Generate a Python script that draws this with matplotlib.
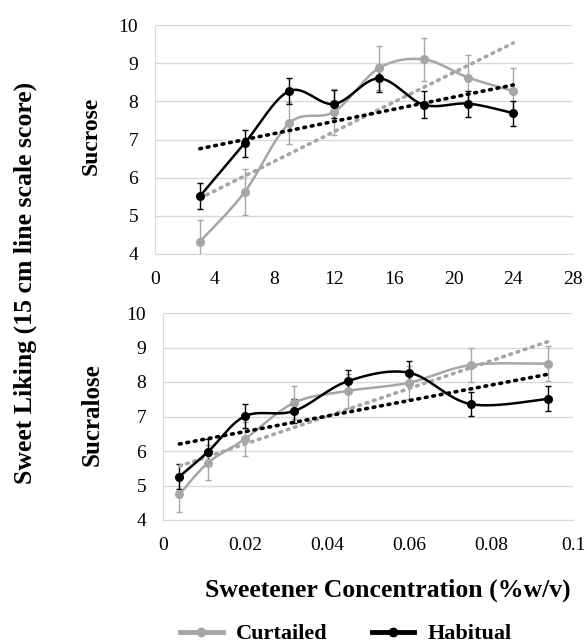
import numpy as np
import matplotlib
matplotlib.use("Agg")
import matplotlib.pyplot as plt

# sucrose (%w/v) and sucralose (%w/v) concentrations
sucrose_x = [3, 6, 9, 12, 15, 18, 21, 24]
sucralose_x = [0.004, 0.011, 0.02, 0.032, 0.045, 0.06, 0.075, 0.094]

# liking scores
sucrose_curt = [4.32, 5.62, 7.43, 7.73, 8.87, 9.10, 8.62, 8.27]
sucrose_curt_err = [0.58, 0.60, 0.55, 0.60, 0.58, 0.57, 0.60, 0.60]
sucrose_hab = [5.51, 6.90, 8.27, 7.93, 8.60, 7.91, 7.94, 7.69]
sucrose_hab_err = [0.34, 0.35, 0.35, 0.37, 0.35, 0.35, 0.34, 0.33]

sucralose_curt = [4.74, 5.66, 6.35, 7.40, 7.74, 7.98, 8.49, 8.53]
sucralose_curt_err = [0.50, 0.50, 0.50, 0.48, 0.50, 0.48, 0.50, 0.50]
sucralose_hab = [5.26, 5.98, 7.01, 7.16, 8.02, 8.27, 7.36, 7.51]
sucralose_hab_err = [0.35, 0.36, 0.35, 0.36, 0.33, 0.34, 0.34, 0.36]

GRAY = "#a6a6a6"
BLACK = "#000000"
plt.rcParams["font.family"] = ["Liberation Serif", "DejaVu Serif"]


def smooth(x, y, n=30):
    # excel-like smoothed line (bezier with catmull-rom style control points)
    x = np.asarray(x, float)
    y = np.asarray(y, float)
    px = np.concatenate([[x[0]], x, [x[-1]]])
    py = np.concatenate([[y[0]], y, [y[-1]]])
    xs, ys = [], []
    t = np.linspace(0, 1, n)
    for i in range(1, len(px) - 2):
        p0 = np.array([px[i], py[i]])
        p3 = np.array([px[i + 1], py[i + 1]])
        c1 = p0 + (np.array([px[i + 1], py[i + 1]]) - np.array([px[i - 1], py[i - 1]])) / 6
        c2 = p3 - (np.array([px[i + 2], py[i + 2]]) - np.array([px[i], py[i]])) / 6
        b = ((1 - t) ** 3)[:, None] * p0 + (3 * (1 - t) ** 2 * t)[:, None] * c1 \
            + (3 * (1 - t) * t ** 2)[:, None] * c2 + (t ** 3)[:, None] * p3
        xs.extend(b[:, 0])
        ys.extend(b[:, 1])
    return xs, ys


def panel(ax, x, curt, curt_err, hab, hab_err, xlim, xticks, xlabels):
    for y, err, col in [(curt, curt_err, GRAY), (hab, hab_err, BLACK)]:
        ax.errorbar(x, y, yerr=err, fmt="none", ecolor=col, elinewidth=1,
                    capsize=2.5, capthick=1, zorder=3)
        sx, sy = smooth(x, y)
        ax.plot(sx, sy, color=col, lw=1.8, zorder=4)
        ax.plot(x, y, "o", color=col, ms=5.5, zorder=5)
        k, b = np.polyfit(x, y, 1)
        xx = np.array([x[0], x[-1]])
        ax.plot(xx, k * xx + b, color=col, lw=2.6, linestyle=(0, (0.5, 1.6)),
                dash_capstyle="round", zorder=4)
    ax.set_xlim(xlim)
    ax.set_ylim(4, 10)
    ax.set_yticks(range(4, 11))
    ax.set_xticks(xticks)
    ax.set_xticklabels(xlabels)
    ax.grid(axis="y", color="#d9d9d9", lw=1)
    ax.set_axisbelow(True)
    for s in ["top", "right"]:
        ax.spines[s].set_visible(False)
    for s in ["left", "bottom"]:
        ax.spines[s].set_color("#d9d9d9")
    ax.tick_params(length=0, labelsize=14)
    ax.tick_params(axis="y", pad=12)
    ax.tick_params(axis="x", pad=12)


W, H = 587, 644
fig = plt.figure(figsize=(W / 100, H / 100), dpi=100)
ax1 = fig.add_axes([155 / W, 1 - 254 / H, (573 - 155) / W, (254 - 25) / H])
ax2 = fig.add_axes([163 / W, 1 - 520 / H, (573 - 163) / W, (520 - 313) / H])

panel(ax1, sucrose_x, sucrose_curt, sucrose_curt_err, sucrose_hab, sucrose_hab_err,
      (0, 28), range(0, 29, 4), [str(v) for v in range(0, 29, 4)])
panel(ax2, sucralose_x, sucralose_curt, sucralose_curt_err, sucralose_hab, sucralose_hab_err,
      (0, 0.1), np.arange(0, 0.101, 0.02), ["0", "0.02", "0.04", "0.06", "0.08", "0.1"])

fig.text(25 / W, 1 - 283 / H, "Sweet Liking (15 cm line scale score)", rotation=90,
         ha="center", va="center", fontsize=18.5, fontweight="bold")
fig.text(91 / W, 1 - 136 / H, "Sucrose", rotation=90, ha="center", va="center",
         fontsize=17, fontweight="bold")
fig.text(92 / W, 1 - 415 / H, "Sucralose", rotation=90, ha="center", va="center",
         fontsize=18, fontweight="bold")
fig.text(388 / W, 1 - 590 / H, "Sweetener Concentration (%w/v)", ha="center",
         va="center", fontsize=18.5, fontweight="bold")

h1, = ax2.plot([], [], "-o", color=GRAY, lw=3.5, ms=6)
h2, = ax2.plot([], [], "-o", color=BLACK, lw=3.5, ms=6)
fig.legend([h1, h2], ["Curtailed", "Habitual"], loc="center",
           bbox_to_anchor=(346 / W, 1 - 634 / H), ncol=2, frameon=False,
           prop={"weight": "bold", "size": 16}, handlelength=1.9,
           columnspacing=2.0, handletextpad=0.6)

fig.savefig("out.png", dpi=100)
